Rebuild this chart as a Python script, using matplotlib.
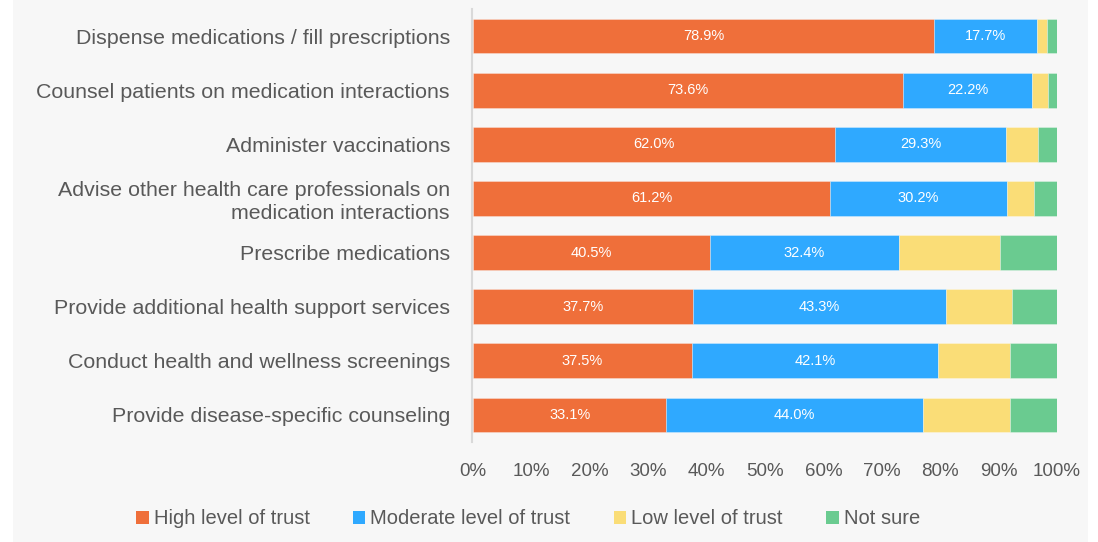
import matplotlib
matplotlib.use("Agg")
import matplotlib.pyplot as plt
from matplotlib.patches import Rectangle
import numpy as np

categories = [
    "Dispense medications / fill prescriptions",
    "Counsel patients on medication interactions",
    "Administer vaccinations",
    "Advise other health care professionals on\nmedication interactions",
    "Prescribe medications",
    "Provide additional health support services",
    "Conduct health and wellness screenings",
    "Provide disease-specific counseling",
]
high = [78.9, 73.6, 62.0, 61.2, 40.5, 37.7, 37.5, 33.1]
moderate = [17.7, 22.2, 29.3, 30.2, 32.4, 43.3, 42.1, 44.0]
low = [1.7, 2.7, 5.4, 4.7, 17.4, 11.3, 12.4, 14.8]
not_sure = [1.7, 1.5, 3.3, 3.9, 9.7, 7.7, 8.0, 8.1]
series_names = ["High level of trust", "Moderate level of trust", "Low level of trust", "Not sure"]
colors = ["#EF6F3A", "#2FA9FF", "#FADD77", "#6ACB90"]
xticks = [0, 10, 20, 30, 40, 50, 60, 70, 80, 90, 100]

plt.rcParams['font.family'] = ['Liberation Sans', 'DejaVu Sans']
txt = "#595959"

W, H = 1098, 542
fig = plt.figure(figsize=(W / 100, H / 100), dpi=100, facecolor="white")
fig.patches.append(Rectangle((13 / W, 0), (1088 - 13) / W, 1, transform=fig.transFigure,
                             facecolor="#F7F7F7", edgecolor="none", zorder=-10))

ax = fig.add_axes([473 / W, 1 - 442 / H, (1057 - 473) / W, (442 - 9) / H])
ax.set_facecolor("none")
for s in ["top", "right", "bottom"]:
    ax.spines[s].set_visible(False)
ax.spines["left"].set_color("#D9D9D9")
ax.spines["left"].set_linewidth(1.5)
ax.spines["left"].set_position(("data", -0.15))

y = np.arange(len(categories))
data = [high, moderate, low, not_sure]
left = np.zeros(len(categories))
for i, (vals, name, c) in enumerate(zip(data, series_names, colors)):
    vals = np.array(vals)
    bars = ax.barh(y, vals, left=left, height=0.64, color=c, label=name,
                   edgecolor=(1, 1, 1, 0.35), linewidth=0.6)
    if i < 2:
        for b, v, l in zip(bars, vals, left):
            ax.text(l + v / 2, b.get_y() + b.get_height() / 2, f"{v:.1f}%",
                    ha="center", va="center", color="white", fontsize=10.5)
    left = left + vals

ax.set_ylim(len(categories) - 0.5, -0.5)
ax.set_xlim(0, 100)
ax.set_yticks(y)
ax.set_yticklabels(categories, fontsize=15.4, color=txt, linespacing=1.25)
ax.set_xticks(xticks)
ax.set_xticklabels([f"{t}%" for t in xticks], fontsize=13.5, color=txt)
ax.tick_params(axis="both", length=0)
ax.tick_params(axis="y", pad=16)
ax.tick_params(axis="x", pad=15)

handles, labels = ax.get_legend_handles_labels()
leg = fig.legend(handles, labels, loc="center", bbox_to_anchor=(528 / W, 1 - 519 / H),
                 ncol=4, frameon=False, fontsize=14.5, handlelength=0.62, handleheight=0.62,
                 handletextpad=0.25, columnspacing=2.15, labelcolor=txt)
for h in leg.legend_handles:
    h.set_edgecolor("none")

fig.savefig("out.png", dpi=100, facecolor="white")
